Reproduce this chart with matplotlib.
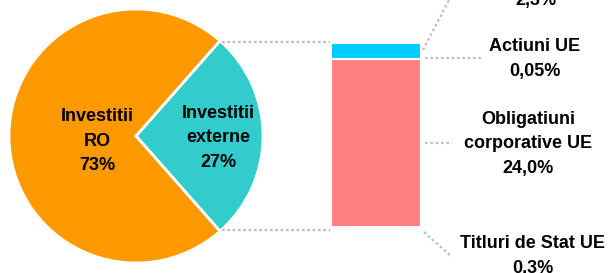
import matplotlib
matplotlib.use("Agg")
import matplotlib.pyplot as plt

plt.rcParams['font.family'] = ['Liberation Sans', 'DejaVu Sans']

# pie data
pie_labels = ['Investitii\nexterne\n27%', 'Investitii\nRO\n73%']
pie_values = [27, 73]
pie_colors = ['#33CCCC', '#FF9900']

# breakdown of external investments (bottom -> top)
bar_names = ['Titluri de Stat UE', 'Obligatiuni\ncorporative UE', 'Actiuni UE', '']
bar_values = [0.3, 24.0, 0.05, 2.3]
bar_text = ['0,3%', '24,0%', '0,05%', '2,3%']
bar_colors = ['#FF8080', '#FF8080', '#00CCFF', '#00CCFF']

W, H = 611, 273
FS = 13
LS = 1.6
fig = plt.figure(figsize=(W / 100, H / 100), dpi=100)
ax = fig.add_axes([0, 0, 1, 1])

# pie, in pixel coordinates (y up)
cx, cy, r = 136, H - 136, 127
half = pie_values[0] / 100 * 360 / 2
wedges, _ = ax.pie(pie_values, colors=pie_colors, startangle=-half, center=(cx, cy),
                   radius=r, frame=True,
                   wedgeprops=dict(edgecolor='white', linewidth=2))
ax.text(218, H - 138, pie_labels[0], ha='center', va='center', fontsize=FS,
        fontweight='bold', linespacing=LS)
ax.text(97, H - 141, pie_labels[1], ha='center', va='center', fontsize=FS,
        fontweight='bold', linespacing=LS)

# stacked bar
bar_x, bar_w = 376, 90
bar_base = H - 229
scale = 186 / sum(bar_values)
bottom = bar_base
for v, c in zip(bar_values, bar_colors):
    ax.bar(bar_x, v * scale, bottom=bottom, width=bar_w, color=c,
           edgecolor='white', linewidth=1.5)
    bottom += v * scale

# connectors
lc = dict(color='#BFBFBF', linestyle=(0, (1.2, 1.2)), linewidth=1.6)
ax.plot([222, 330], [H - 42, H - 42], **lc)
ax.plot([222, 330], [H - 230, H - 230], **lc)
ax.plot([423, 450], [H - 50, H + 2], **lc)
ax.plot([425, 482], [H - 58, H - 58], **lc)
ax.plot([425, 452], [H - 143, H - 143], **lc)
ax.plot([424, 452], [H - 232, H - 257], **lc)

# bar labels
ax.text(536, H - 1, bar_text[3], ha='center', va='center', fontsize=FS,
        fontweight='bold')
ax.text(535, H - 59, bar_names[2] + '\n' + bar_text[2], ha='center', va='center',
        fontsize=FS, fontweight='bold', linespacing=LS)
ax.text(528, H - 144, bar_names[1] + '\n' + bar_text[1], ha='center', va='center',
        fontsize=FS, fontweight='bold', linespacing=LS)
ax.text(533, H - 256, bar_names[0] + '\n' + bar_text[0], ha='center', va='center',
        fontsize=FS, fontweight='bold', linespacing=LS)

ax.set_xlim(0, W)
ax.set_ylim(0, H)
ax.set_aspect('auto')
ax.axis('off')

fig.savefig('out.png', dpi=100)
